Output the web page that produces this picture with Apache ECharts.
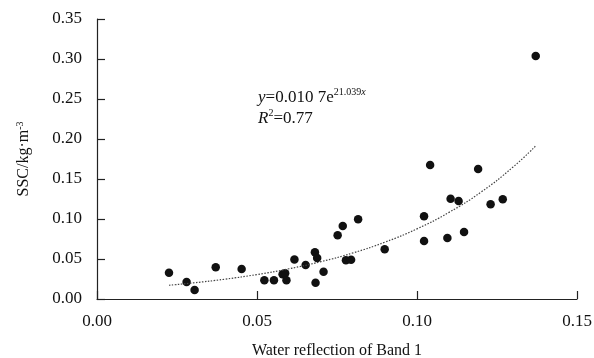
<!DOCTYPE html>
<html>
<head>
    <meta charset="utf-8">
    <script src="https://cdn.jsdelivr.net/npm/echarts@6/dist/echarts.min.js"></script>
</head>
<body style="margin:0">
<div id="ssc_chart" style="width: 594px;height:358px;"></div>
<script type="text/javascript">
    // measured points: reflectance of band 1 vs SSC
    var reflect = [0.0225, 0.0280, 0.0305, 0.0371, 0.0452, 0.0523, 0.0553, 0.0580, 0.0588, 0.0592,
        0.0617, 0.0652, 0.0681, 0.0688, 0.0683, 0.0708, 0.0752, 0.0768, 0.0816, 0.0778,
        0.0794, 0.0899, 0.1022, 0.1022, 0.1041, 0.1191, 0.1105, 0.1130, 0.1230, 0.1268,
        0.1095, 0.1147, 0.1371];
    var ssc = [0.0329, 0.0213, 0.0113, 0.0396, 0.0375, 0.0234, 0.0234, 0.0309, 0.0321, 0.0234,
        0.0494, 0.0425, 0.0584, 0.0513, 0.0204, 0.0341, 0.0796, 0.0913, 0.0996, 0.0484,
        0.0491, 0.0621, 0.1034, 0.0725, 0.1675, 0.1625, 0.1254, 0.1225, 0.1184, 0.1246,
        0.0763, 0.0838, 0.3038];
    // trend line
    var trendX = [0.0225, 0.03, 0.04, 0.05, 0.06, 0.07, 0.08, 0.09, 0.10, 0.11, 0.12, 0.13, 0.137];
    var trendY = [0.0172, 0.0201, 0.0248, 0.0306, 0.0378, 0.0467, 0.0576, 0.0711, 0.0877, 0.1083, 0.1336, 0.1649, 0.191];

    var myChart = echarts.init(document.getElementById('ssc_chart'));
    var pts = reflect.map(function (x, i) { return [x, ssc[i]]; });
    var trend = trendX.map(function (x, i) { return [x, trendY[i]]; });

    var font = 'Liberation Serif, Times New Roman, serif';
    var axisCommon = {
        type: 'value',
        min: 0,
        interval: 0.05,
        splitLine: { show: false },
        axisLine: { show: true, lineStyle: { color: '#222', width: 1.2 } },
        axisTick: { show: true, inside: true, length: 8, lineStyle: { color: '#222', width: 1.2 } },
        axisLabel: {
            color: '#111', fontFamily: font, fontSize: 17,
            formatter: function (v) { return v.toFixed(2); }
        },
        nameLocation: 'middle',
        nameTextStyle: { color: '#111', fontFamily: font, fontSize: 16 }
    };

    var option = {
        animation: false,
        grid: { left: 97, right: 17, top: 19, bottom: 59, containLabel: false, outerBoundsMode: 'none' },
        xAxis: echarts.util.merge({
            max: 0.15,
            name: 'Water reflection of Band 1',
            nameGap: 44,
            axisLabel: { margin: 14 }
        }, axisCommon),
        yAxis: echarts.util.merge({
            max: 0.35,
            name: 'SSC/kg·m{s|-3}',
            nameGap: 64,
            axisLabel: { margin: 15 },
            nameTextStyle: {
                rich: { s: { fontSize: 10, fontFamily: font, color: '#111', verticalAlign: 'top', lineHeight: 18 } }
            }
        }, axisCommon),
        graphic: [{
            type: 'text',
            left: 258,
            top: 87,
            style: {
                text: '{i|y}=0.010 7e{s|21.039}{si|x}\n{i|R}{s|2}=0.77',
                font: '17px ' + font,
                fill: '#111',
                lineHeight: 21,
                rich: {
                    i: { fontStyle: 'italic', fontSize: 17, fontFamily: font, lineHeight: 21 },
                    s: { fontSize: 10, fontFamily: font, verticalAlign: 'top', lineHeight: 21 },
                    si: { fontSize: 10, fontFamily: font, fontStyle: 'italic', verticalAlign: 'top', lineHeight: 21 }
                }
            }
        }],
        series: [{
            type: 'scatter',
            data: pts,
            symbolSize: 8.5,
            itemStyle: { color: '#111', opacity: 1 }
        }, {
            type: 'line',
            data: trend,
            smooth: true,
            showSymbol: false,
            lineStyle: { color: '#444', width: 1.2, type: [1.5, 1.5] }
        }]
    };

    myChart.setOption(option);
</script>
</body>
</html>
